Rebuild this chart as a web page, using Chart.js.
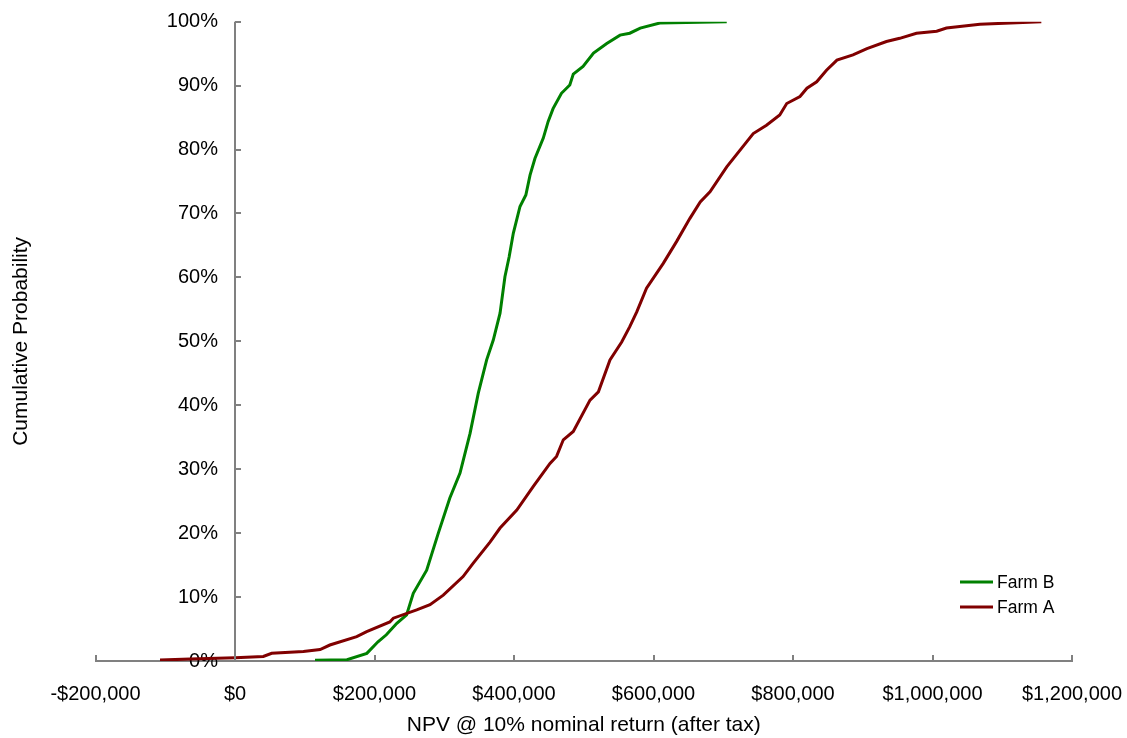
<!DOCTYPE html>
<html>
<head>
<meta charset="utf-8">
<script src="https://cdn.jsdelivr.net/npm/chart.js@4.4.1/dist/chart.umd.min.js"></script>
<style>
  html, body { margin: 0; padding: 0; background: #fff; }
  #wrap { width: 1127px; height: 738px; }
</style>
</head>
<body>
<div id="wrap"><canvas id="cdfChart"></canvas></div>
<script>
// NPV values ($) and cumulative probability (%)
const farmANpv = [-107500, -64500, 0, 40600, 52600, 98000, 122000, 136000, 174500, 188800,
  222000, 227000, 260500, 279600, 298600, 327000, 341600, 365600, 380000, 404000,
  427700, 451600, 461000, 470700, 485000, 509000, 521000, 537600, 554400, 566000,
  576000, 590000, 614000, 633000, 652000, 667000, 681000, 705000, 743000, 762000,
  781000, 791000, 810000, 820000, 834000, 848000, 863000, 886000, 906000, 934000,
  953000, 977000, 1006000, 1020000, 1068000, 1156000];
const farmAProb = [0.15, 0.3, 0.5, 0.7, 1.2, 1.5, 1.8, 2.5, 3.8, 4.6,
  6.1, 6.7, 8.0, 8.8, 10.3, 13.2, 15.3, 18.6, 20.8, 23.6,
  27.3, 30.9, 32.0, 34.6, 35.9, 40.8, 42.1, 47.1, 49.9, 52.3,
  54.6, 58.3, 62.2, 65.6, 69.2, 71.8, 73.4, 77.3, 82.5, 83.8,
  85.4, 87.2, 88.3, 89.6, 90.6, 92.4, 94.0, 94.8, 95.8, 96.9,
  97.4, 98.2, 98.5, 99.0, 99.6, 100];

const farmBNpv = [114700, 160600, 189000, 205000, 217000, 232000, 246000, 255600, 274800, 291500,
  308000, 322600, 337000, 348800, 360800, 370300, 380000, 387000, 393000, 399000,
  408600, 417000, 423000, 430000, 442000, 449000, 456000, 468000, 480000, 485000,
  499000, 514000, 533000, 552000, 566000, 581000, 609000, 705000];
const farmBProb = [0.1, 0.2, 1.2, 3.0, 4.1, 5.9, 7.2, 10.6, 14.2, 20.0,
  25.5, 29.4, 35.6, 41.9, 47.1, 50.2, 54.4, 60.1, 63.2, 66.9,
  71.1, 72.9, 76.0, 78.6, 81.8, 84.4, 86.4, 88.8, 90.1, 91.8,
  93.0, 95.1, 96.6, 97.9, 98.2, 99.0, 99.8, 100];

const xTickValues = [-200000, 0, 200000, 400000, 600000, 800000, 1000000, 1200000];
const yTickValues = [0, 10, 20, 30, 40, 50, 60, 70, 80, 90, 100];

const axisGray = "#808080";
const greenLine = "#008000";
const redLine = "#800000";
// y labels sit a little left of the $0 line (about 17px)
const yLabelAnchor = -24400;

Chart.defaults.font.family = "'Liberation Sans', Arial, sans-serif";
Chart.defaults.color = "#000";

function toPoints(xs, ys) {
  return xs.map((v, i) => ({ x: v, y: ys[i] }));
}

function money(v) {
  const s = "$" + Math.abs(v).toLocaleString("en-US");
  return v < 0 ? "-" + s : s;
}

function noPad(s) {
  s.paddingTop = 0;
  s.paddingBottom = 0;
  s.paddingLeft = 0;
  s.paddingRight = 0;
}

// value axis line at $0 plus small tick marks pointing into the plot
const innerTicks = {
  id: "innerTicks",
  afterDraw(chart) {
    const { ctx, scales: { x, y } } = chart;
    const x0 = Math.round(x.getPixelForValue(0));
    const yBase = y.getPixelForValue(0);
    ctx.save();
    ctx.strokeStyle = axisGray;
    ctx.lineWidth = 2;
    ctx.beginPath();
    ctx.moveTo(x0, y.getPixelForValue(100));
    ctx.lineTo(x0, yBase);
    xTickValues.forEach(v => {
      const px = Math.round(x.getPixelForValue(v));
      ctx.moveTo(px, yBase);
      ctx.lineTo(px, yBase - 6);
    });
    yTickValues.forEach(v => {
      const py = Math.round(y.getPixelForValue(v));
      ctx.moveTo(x0, py);
      ctx.lineTo(x0 + 6, py);
    });
    ctx.stroke();
    ctx.restore();
  }
};

// legend in the lower right of the plot
const cornerLegend = {
  id: "cornerLegend",
  afterDraw(chart) {
    const { ctx, chartArea } = chart;
    const items = chart.data.datasets.slice().reverse();
    const left = chartArea.right - 112;
    let top = chartArea.bottom - 79;
    ctx.save();
    ctx.font = "17.5px 'Liberation Sans', Arial, sans-serif";
    ctx.textBaseline = "middle";
    items.forEach(ds => {
      ctx.strokeStyle = ds.borderColor;
      ctx.lineWidth = 3;
      ctx.beginPath();
      ctx.moveTo(left, top);
      ctx.lineTo(left + 33, top);
      ctx.stroke();
      ctx.fillStyle = "#000";
      ctx.fillText(ds.label, left + 37, top + 1);
      top += 25;
    });
    ctx.restore();
  }
};

new Chart(document.getElementById("cdfChart"), {
  type: "line",
  data: {
    datasets: [
      {
        label: "Farm A",
        data: toPoints(farmANpv, farmAProb),
        borderColor: redLine,
        borderWidth: 3,
        pointRadius: 0,
        tension: 0
      },
      {
        label: "Farm B",
        data: toPoints(farmBNpv, farmBProb),
        borderColor: greenLine,
        borderWidth: 3,
        pointRadius: 0,
        tension: 0
      }
    ]
  },
  options: {
    responsive: true,
    maintainAspectRatio: false,
    animation: false,
    layout: { padding: { top: 21.7, right: 55, left: 0, bottom: 0 } },
    plugins: {
      legend: { display: false },
      tooltip: { enabled: false }
    },
    scales: {
      x: {
        type: "linear",
        position: "bottom",
        min: -200000,
        max: 1200000,
        afterBuildTicks: s => { s.ticks = xTickValues.map(v => ({ value: v })); },
        afterFit: s => { s.height = 77; noPad(s); },
        grid: { display: true, drawOnChartArea: false, drawTicks: false },
        border: { display: true, color: axisGray, width: 2 },
        ticks: {
          font: { size: 20 },
          padding: 21,
          maxRotation: 0,
          autoSkip: false,
          callback: v => money(v)
        },
        title: {
          display: true,
          text: "NPV @ 10% nominal return (after tax)",
          font: { size: 21 },
          padding: { top: 0, bottom: 0 }
        }
      },
      y: {
        type: "linear",
        position: { x: yLabelAnchor },
        min: 0,
        max: 100,
        afterBuildTicks: s => { s.ticks = yTickValues.map(v => ({ value: v })); },
        afterFit: noPad,
        grid: { display: false, drawTicks: false },
        border: { display: false },
        ticks: {
          font: { size: 20 },
          callback: v => v + "%"
        }
      },
      yTitle: {
        type: "linear",
        position: "left",
        min: 0,
        max: 1,
        afterFit: s => { s.width = 95.5; noPad(s); },
        grid: { display: false },
        border: { display: false },
        ticks: { display: false },
        title: {
          display: true,
          text: "Cumulative Probability",
          font: { size: 21 },
          padding: { top: 9, bottom: 0 }
        }
      }
    }
  },
  plugins: [innerTicks, cornerLegend]
});
</script>
</body>
</html>
